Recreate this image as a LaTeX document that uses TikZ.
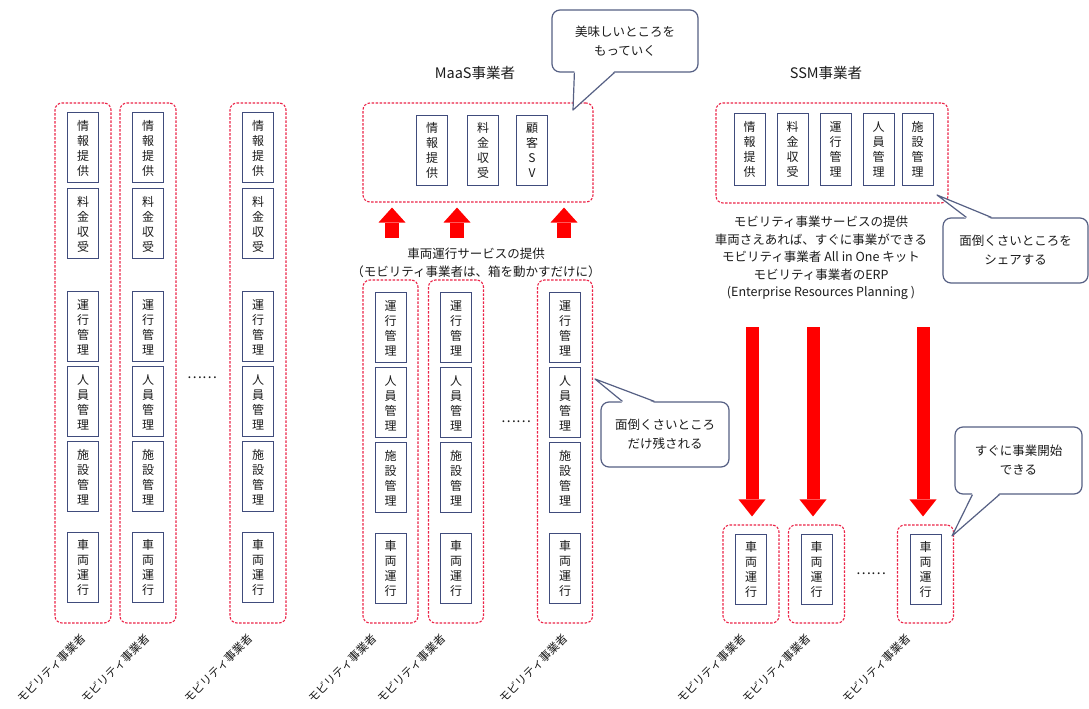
\documentclass[tikz,border=0pt]{standalone}
\usepackage{fontspec}
\setmainfont{Noto Sans CJK JP}
\usetikzlibrary{positioning,calc,arrows.meta}
\definecolor{dashred}{RGB}{236,36,72}
\definecolor{boxblue}{RGB}{64,76,124}
\definecolor{callgray}{RGB}{86,96,132}
\definecolor{textgray}{RGB}{28,28,28}

\begin{document}
\begin{tikzpicture}[
  x=1pt, y=-1pt,
  every node/.style={text=textgray},
  groupbox/.style={draw=dashred, dash pattern=on 2.5pt off 1.5pt, line width=1.1pt, rounded corners=7pt},
  taskbox/.style={draw=boxblue, line width=1pt, minimum width=31pt, minimum height=70pt, inner sep=0pt, align=center, font=\fontsize{12}{15}\selectfont},
  caption/.style={align=center, font=\fontsize{12.5}{18}\selectfont},
  title/.style={font=\fontsize{14.5}{18}\selectfont},
  dots/.style={font=\fontsize{14}{16}\selectfont},
  oplabel/.style={rotate=45, anchor=east, inner sep=0pt, font=\fontsize{11.5}{14}\selectfont},
  bubble/.style={draw=callgray, line width=1.2pt, rounded corners=8pt, fill=white, align=center, font=\fontsize{12.5}{19}\selectfont},
  bubbleline/.style={draw=callgray, line width=1.2pt, line join=round},
  uparrow/.style={draw=red, line width=14pt, -{Triangle[length=15pt,width=27pt,line width=0pt]}},
  downarrow/.style={draw=red, line width=13pt, -{Triangle[length=17pt,width=27pt,line width=0pt]}}
]
  \useasboundingbox[fill=white] (0,0) rectangle (1089,709);

  % Left: every operator does everything
  \node[groupbox, minimum width=56pt, minimum height=520pt] (L1) at (83,363) {};
  \node[taskbox, below=10pt of L1.north] (L1a) {情\\報\\提\\供};
  \node[taskbox, below=5pt of L1a] (L1b) {料\\金\\収\\受};
  \node[taskbox, below=32pt of L1b] (L1c) {運\\行\\管\\理};
  \node[taskbox, below=4pt of L1c] (L1d) {人\\員\\管\\理};
  \node[taskbox, below=4pt of L1d] (L1e) {施\\設\\管\\理};
  \node[taskbox, below=20pt of L1e] (L1f) {車\\両\\運\\行};

  \node[groupbox, minimum width=56pt, minimum height=520pt] (L2) at (148,363) {};
  \node[taskbox, below=10pt of L2.north] (L2a) {情\\報\\提\\供};
  \node[taskbox, below=5pt of L2a] (L2b) {料\\金\\収\\受};
  \node[taskbox, below=32pt of L2b] (L2c) {運\\行\\管\\理};
  \node[taskbox, below=4pt of L2c] (L2d) {人\\員\\管\\理};
  \node[taskbox, below=4pt of L2d] (L2e) {施\\設\\管\\理};
  \node[taskbox, below=20pt of L2e] (L2f) {車\\両\\運\\行};

  \node[groupbox, minimum width=56pt, minimum height=520pt] (L3) at (258,363) {};
  \node[taskbox, below=10pt of L3.north] (L3a) {情\\報\\提\\供};
  \node[taskbox, below=5pt of L3a] (L3b) {料\\金\\収\\受};
  \node[taskbox, below=32pt of L3b] (L3c) {運\\行\\管\\理};
  \node[taskbox, below=4pt of L3c] (L3d) {人\\員\\管\\理};
  \node[taskbox, below=4pt of L3d] (L3e) {施\\設\\管\\理};
  \node[taskbox, below=20pt of L3e] (L3f) {車\\両\\運\\行};

  \node[dots] (Ldots) at (202,378) {……};
  \node[oplabel] (L1n) at (84,636) {モビリティ事業者};
  \node[oplabel] (L2n) at (148,636) {モビリティ事業者};
  \node[oplabel] (L3n) at (251,636) {モビリティ事業者};

  % Middle: MaaS operator takes the good part
  \node[title] (maastitle) at (475,73) {MaaS事業者};
  \node[groupbox, minimum width=230pt, minimum height=99pt] (maas) at (478,152.5) {};
  \node[taskbox] (Ma) at (432,150) {情\\報\\提\\供};
  \node[taskbox, right=19pt of Ma] (Mb) {料\\金\\収\\受};
  \node[taskbox, right=17pt of Mb] (Mc) {顧\\客\\S\\V};

  \node[caption] (midtext) at (476,263) {車両運行サービスの提供\\（モビリティ事業者は、箱を動かすだけに）};

  \node[groupbox, minimum width=55pt, minimum height=343pt] (M1) at (390.5,451.5) {};
  \node[taskbox, below=13pt of M1.north] (M1a) {運\\行\\管\\理};
  \node[taskbox, below=4pt of M1a] (M1b) {人\\員\\管\\理};
  \node[taskbox, below=4pt of M1b] (M1c) {施\\設\\管\\理};
  \node[taskbox, below=20pt of M1c] (M1d) {車\\両\\運\\行};

  \node[groupbox, minimum width=55pt, minimum height=343pt] (M2) at (456,451.5) {};
  \node[taskbox, below=13pt of M2.north] (M2a) {運\\行\\管\\理};
  \node[taskbox, below=4pt of M2a] (M2b) {人\\員\\管\\理};
  \node[taskbox, below=4pt of M2b] (M2c) {施\\設\\管\\理};
  \node[taskbox, below=20pt of M2c] (M2d) {車\\両\\運\\行};

  \node[groupbox, minimum width=55pt, minimum height=343pt] (M3) at (565,451.5) {};
  \node[taskbox, below=13pt of M3.north] (M3a) {運\\行\\管\\理};
  \node[taskbox, below=4pt of M3a] (M3b) {人\\員\\管\\理};
  \node[taskbox, below=4pt of M3b] (M3c) {施\\設\\管\\理};
  \node[taskbox, below=20pt of M3c] (M3d) {車\\両\\運\\行};

  \node[dots] (Mdots) at (516,422) {……};
  \node[oplabel] (M1n) at (375,636) {モビリティ事業者};
  \node[oplabel] (M2n) at (444,636) {モビリティ事業者};
  \node[oplabel] (M3n) at (566,636) {モビリティ事業者};

  \coordinate (u1) at (392,238);
  \coordinate (u2) at (457,238);
  \coordinate (u3) at (564,238);
  \draw[uparrow, shorten >=5pt] (u1) -- (u1 |- maas.south);
  \draw[uparrow, shorten >=5pt] (u2) -- (u2 |- maas.south);
  \draw[uparrow, shorten >=5pt] (u3) -- (u3 |- maas.south);

  % Right: SSM operator shares the troublesome part
  \node[title] (ssmtitle) at (826,73) {SSM事業者};
  \node[groupbox, minimum width=232pt, minimum height=100pt] (ssm) at (832,153) {};
  \node[taskbox, minimum height=72pt] (Sa) at (749.5,149) {情\\報\\提\\供};
  \node[taskbox, minimum height=72pt, right=11pt of Sa] (Sb) {料\\金\\収\\受};
  \node[taskbox, minimum height=72pt, right=11pt of Sb] (Sc) {運\\行\\管\\理};
  \node[taskbox, minimum height=72pt, right=11pt of Sc] (Sd) {人\\員\\管\\理};
  \node[taskbox, minimum height=72pt, right=7pt of Sd] (Se) {施\\設\\管\\理};

  \node[caption, font=\fontsize{12.5}{17.5}\selectfont] (ssmtext) at (821,258) {モビリティ事業サービスの提供\\車両さえあれば、すぐに事業ができる\\モビリティ事業者 All in One キット\\モビリティ事業者のERP\\(Enterprise Resources Planning )};

  \node[groupbox, minimum width=56pt, minimum height=98pt] (R1) at (751,574) {};
  \node[taskbox, below=10pt of R1.north] (R1a) {車\\両\\運\\行};
  \node[groupbox, minimum width=56pt, minimum height=98pt] (R2) at (816.5,574) {};
  \node[taskbox, below=10pt of R2.north] (R2a) {車\\両\\運\\行};
  \node[groupbox, minimum width=56pt, minimum height=98pt] (R3) at (925.5,574) {};
  \node[taskbox, below=10pt of R3.north] (R3a) {車\\両\\運\\行};

  \node[dots] (Rdots) at (871,574) {……};
  \node[oplabel] (R1n) at (744,636) {モビリティ事業者};
  \node[oplabel] (R2n) at (809,636) {モビリティ事業者};
  \node[oplabel] (R3n) at (909,636) {モビリティ事業者};

  \coordinate (d1) at (752,327);
  \coordinate (d2) at (813,327);
  \coordinate (d3) at (923,327);
  \draw[downarrow, shorten >=8pt] (d1) -- (d1 |- R1.north);
  \draw[downarrow, shorten >=8pt] (d2) -- (d2 |- R2.north);
  \draw[downarrow, shorten >=8pt] (d3) -- (d3 |- R3.north);

  % Callouts
  \node[bubble, minimum width=146pt, minimum height=62pt] (C1) at (625,41) {美味しいところを\\もっていく};
  \coordinate (t1) at (573,110);
  \fill[white] ($(C1.south west)+(23,-1.5)$) -- (t1) -- ($(C1.south west)+(63,-1.5)$) -- cycle;
  \draw[bubbleline] ($(C1.south west)+(23,0)$) -- (t1) -- ($(C1.south west)+(63,0)$);

  \node[bubble, minimum width=128pt, minimum height=65pt] (C2) at (665,434.5) {面倒くさいところ\\だけ残される};
  \coordinate (t2) at (595,379);
  \fill[white] ($(C2.north west)+(22,1.5)$) -- (t2) -- ($(C2.north west)+(54,1.5)$) -- cycle;
  \draw[bubbleline] ($(C2.north west)+(22,0)$) -- (t2) -- ($(C2.north west)+(54,0)$);

  \node[bubble, minimum width=145pt, minimum height=65pt] (C3) at (1015.5,250.5) {面倒くさいところを\\シェアする};
  \coordinate (t3) at (937,195);
  \fill[white] ($(C3.north west)+(24,1.5)$) -- (t3) -- ($(C3.north west)+(49,1.5)$) -- cycle;
  \draw[bubbleline] ($(C3.north west)+(24,0)$) -- (t3) -- ($(C3.north west)+(49,0)$);

  \node[bubble, minimum width=127pt, minimum height=67pt] (C4) at (1018.5,460.5) {すぐに事業開始\\できる};
  \coordinate (t4) at (952,536);
  \fill[white] ($(C4.south west)+(18,-1.5)$) -- (t4) -- ($(C4.south west)+(45,-1.5)$) -- cycle;
  \draw[bubbleline] ($(C4.south west)+(18,0)$) -- (t4) -- ($(C4.south west)+(45,0)$);

\end{tikzpicture}
\end{document}
